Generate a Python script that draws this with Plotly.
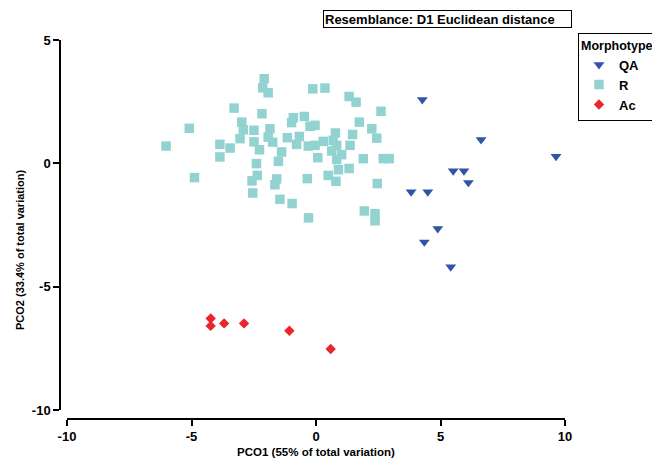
import plotly.graph_objects as go

# ---- data ----
qa_x = [4.27, 6.63, 9.64, 5.51, 5.94, 6.12, 3.82, 4.49, 4.89, 4.35, 5.41]
qa_y = [2.58, 0.96, 0.28, -0.31, -0.31, -0.78, -1.16, -1.16, -2.65, -3.19, -4.20]

r_x = [-2.08, -2.14, -1.92, -3.29, -2.17, -5.09, -2.98, -2.92, -2.49, -1.85,
       -1.92, -1.74, -3.05, -6.02, -3.86, -3.45, -3.86, -2.49, -2.27, -2.39,
       -4.88, -2.36, -2.57, -2.54, -1.51, -1.65, -0.13, 0.36, 1.33, 1.61,
       2.61, -0.91, -0.47, -0.98, -0.24, -0.04, 1.74, 2.24, 2.44, -1.15,
       -0.67, 0.78, 1.47, -0.78, -0.31, -0.04, 0.29, 0.69, 0.83, 1.37,
       -1.38, 0.63, 1.03, 0.07, 0.83, 1.90, 2.70, 2.94, 0.90, 1.33,
       0.49, -0.35, 0.80, 2.46, -1.45, -0.96, -0.30, 1.94, 2.37, 2.37,
       -1.58]
r_y = [3.43, 3.06, 2.86, 2.24, 2.01, 1.42, 1.67, 1.36, 1.34, 1.40,
       1.06, 0.86, 1.00, 0.70, 0.77, 0.62, 0.26, 0.87, 0.55, -0.01,
       -0.58, -0.49, -0.71, -1.20, 0.08, -0.87, 3.02, 3.05, 2.71, 2.48,
       2.11, 1.85, 1.90, 1.65, 1.50, 1.54, 1.67, 1.40, 1.02, 1.04,
       1.09, 1.23, 1.17, 0.77, 0.70, 0.73, 0.89, 0.93, 0.73, 0.73,
       0.46, 0.50, 0.35, 0.23, 0.15, 0.19, 0.19, 0.19, -0.26, -0.21,
       -0.49, -0.62, -0.73, -0.82, -1.46, -1.63, -2.21, -1.93, -2.04, -2.33,
       -0.63]

ac_x = [-4.23, -4.23, -3.69, -2.89, -1.07, 0.59]
ac_y = [-6.29, -6.59, -6.49, -6.49, -6.79, -7.53]

x_ticks = [-10, -5, 0, 5, 10]
x_ticktext = ["-10", "-5", "0", "5", "10"]
y_ticks = [-10, -5, 0, 5]
y_ticktext = ["-10", "-5", "0", "5"]

FONT = "Liberation Sans, Arial, sans-serif"

fig = go.Figure()
fig.add_trace(go.Scatter(x=qa_x, y=qa_y, mode="markers", name="QA",
                         marker=dict(symbol="triangle-down", size=9.5, color="#2F55A8")))
fig.add_trace(go.Scatter(x=r_x, y=r_y, mode="markers", name="R",
                         marker=dict(symbol="square", size=9.5, color="#92D3D2")))
fig.add_trace(go.Scatter(x=ac_x, y=ac_y, mode="markers", name="Ac",
                         marker=dict(symbol="diamond", size=8, color="#E8262B")))

axis_common = dict(showline=True, linecolor="black", linewidth=1.5,
                   ticks="outside", ticklen=6, tickwidth=1.5, tickcolor="black",
                   showgrid=False, zeroline=False, anchor="free", position=0,
                   tickfont=dict(family=FONT, size=13, color="black", weight="bold"))

# the page body adds an 8px offset, so the figure is 8px smaller on each side
fig.update_layout(
    width=652, height=450,
    margin=dict(l=52, r=95, t=32, b=39, autoexpand=False),
    plot_bgcolor="white", paper_bgcolor="white",
    font=dict(family=FONT, color="black"),
    xaxis=dict(domain=[7 / 505, 1], range=[-10, 10], tickvals=x_ticks, ticktext=x_ticktext,
               title=dict(text="PCO1 (55% of total variation)", standoff=4,
                          font=dict(family=FONT, size=11.5, color="black", weight="bold")),
               **axis_common),
    yaxis=dict(domain=[9 / 379, 1], range=[-10, 5], tickvals=y_ticks, ticktext=y_ticktext,
               **axis_common),
    legend=dict(x=(578 - 60) / 505, y=(419 - 32.5) / 379, xanchor="left", yanchor="top",
                bordercolor="black", borderwidth=1, bgcolor="white",
                title=dict(text="Morphotype", font=dict(family=FONT, size=12.5, color="black", weight="bold")),
                font=dict(family=FONT, size=13, color="black", weight="bold"),
                tracegroupgap=0),
    showlegend=True,
)

# y-axis title (placed lower than the axis centre, as in the reference)
fig.add_annotation(text="PCO2 (33.4% of total variation)", xref="paper", yref="paper",
                   x=(20 - 60) / 505, y=(419 - 250) / 379, xanchor="center", yanchor="middle",
                   textangle=-90, showarrow=False,
                   font=dict(family=FONT, size=11, color="black", weight="bold"))

fig.add_annotation(text="Resemblance: D1 Euclidean distance", xref="paper", yref="paper",
                   x=(447.5 - 60) / 505, y=(419 - 19.5) / 379, xanchor="center", yanchor="middle",
                   showarrow=False, bordercolor="black", borderwidth=1, borderpad=1,
                   width=245, height=14, align="left",
                   font=dict(family=FONT, size=13, color="black", weight="bold"))

fig.write_html("out.html")
